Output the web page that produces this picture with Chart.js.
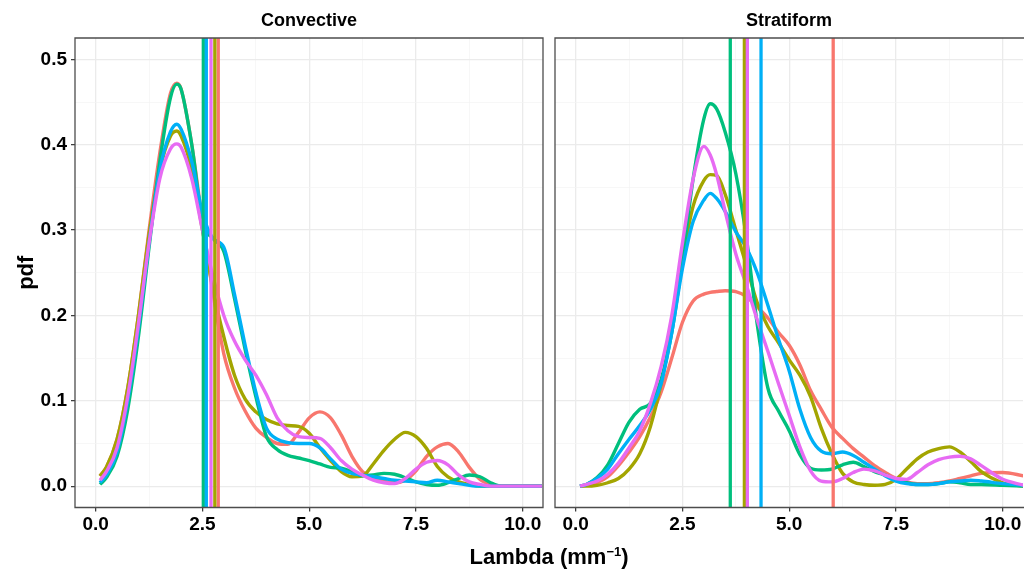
<!DOCTYPE html>
<html>
<head>
<meta charset="utf-8">
<script src="https://cdn.jsdelivr.net/npm/chart.js@4.4.0/dist/chart.umd.min.js"></script>
<style>
  html, body { margin: 0; padding: 0; background: #fff; overflow: hidden; }
  body { width: 1024px; height: 572px; position: relative; font-family: 'Liberation Sans', Arial, sans-serif; color: #000; }
  canvas { position: absolute; top: 0; }
  #convCanvas { left: 0; }
  #stratCanvas { left: 548px; }
  .strip { position: absolute; top: 9px; width: 300px; text-align: center; font-weight: bold; font-size: 18px; line-height: 22px; }
  #convTitle { left: 159px; }
  #stratTitle { left: 639px; }
  #xTitle { position: absolute; left: 349px; width: 400px; top: 539px; text-align: center; font-weight: bold; font-size: 22px; line-height: 26px; }
  #xTitle sup { font-size: 13px; }
</style>
</head>
<body>
<canvas id="convCanvas" width="548" height="572"></canvas>
<canvas id="stratCanvas" width="476" height="572"></canvas>
<div class="strip" id="convTitle">Convective</div>
<div class="strip" id="stratTitle">Stratiform</div>
<div id="xTitle">Lambda (mm<sup>&minus;1</sup>)</div>
<script>
// lambda grid for each facet
const convX = [0.1, 0.25, 0.5, 0.75, 1.0, 1.25, 1.5, 1.75, 1.9, 2.0, 2.25, 2.5, 2.75, 3.0, 3.25, 3.5, 3.75, 4.0, 4.25, 4.5, 4.75, 5.0, 5.25, 5.5, 5.75, 6.0, 6.25, 6.5, 6.75, 7.0, 7.25, 7.5, 7.75, 8.0, 8.25, 8.5, 8.75, 9.0, 9.25, 9.5, 10.0, 10.45];
const stratX = [0.1, 0.25, 0.5, 0.75, 1.0, 1.25, 1.5, 1.75, 2.0, 2.25, 2.5, 2.75, 3.0, 3.15, 3.3, 3.5, 3.75, 4.0, 4.25, 4.5, 4.75, 5.0, 5.25, 5.5, 5.75, 6.0, 6.25, 6.5, 6.75, 7.0, 7.25, 7.5, 7.75, 8.0, 8.25, 8.5, 8.75, 9.0, 9.25, 9.5, 10.0, 10.5];

// Convective densities
const convRed     = [.012, .022, .055, .115, .20, .30, .39, .46, .472, .465, .40, .31, .225, .155, .115, .088, .068, .057, .05, .049, .063, .08, .087, .08, .06, .035, .017, .01, .006, .004, .007, .018, .035, .046, .05, .04, .022, .008, .002, 0, 0, 0];
const convOlive   = [.012, .022, .055, .115, .20, .295, .37, .41, .416, .41, .37, .30, .23, .175, .13, .102, .087, .078, .073, .071, .07, .062, .045, .03, .017, .011, .012, .026, .042, .055, .063, .058, .044, .023, .011, .005, .002, 0, 0, 0, 0, 0];
const convGreen   = [.002, .01, .035, .09, .175, .28, .38, .455, .471, .465, .40, .31, .29, .275, .22, .16, .105, .058, .043, .036, .033, .03, .026, .022, .021, .017, .012, .013, .015, .014, .01, .005, .002, .001, .004, .009, .013, .011, .004, 0, 0, 0];
const convBlue    = [.004, .013, .04, .10, .185, .285, .37, .415, .424, .418, .38, .32, .29, .28, .225, .165, .11, .068, .055, .051, .05, .05, .045, .032, .02, .015, .013, .011, .009, .007, .006, .005, .004, .007, .005, .003, .001, 0, 0, 0, 0, 0];
const convMagenta = [.007, .017, .045, .105, .19, .285, .36, .395, .401, .397, .36, .30, .245, .20, .17, .148, .13, .107, .08, .065, .058, .057, .056, .045, .03, .02, .013, .007, .004, .003, .009, .02, .028, .03, .025, .013, .005, .002, 0, 0, 0, 0];

// Stratiform densities
const stratRed     = [0, .001, .004, .011, .024, .04, .058, .081, .11, .15, .192, .217, .225, .227, .228, .229, .228, .222, .21, .197, .18, .165, .142, .112, .09, .069, .056, .044, .034, .024, .016, .009, .005, .003, .003, .004, .006, .009, .012, .015, .016, .012];
const stratOlive   = [0, 0, .001, .004, .009, .02, .038, .07, .12, .185, .265, .328, .358, .365, .364, .342, .30, .258, .215, .187, .168, .148, .13, .105, .068, .038, .015, .005, .002, .001, .002, .008, .02, .032, .04, .044, .046, .04, .029, .017, .004, 0];
const stratGreen   = [0, .002, .01, .025, .05, .075, .09, .097, .125, .18, .265, .36, .43, .448, .442, .415, .366, .29, .19, .115, .088, .065, .037, .021, .019, .02, .025, .028, .023, .017, .013, .008, .004, .002, .002, .003, .005, .004, .002, .002, .001, 0];
const stratBlue    = [0, .002, .009, .02, .038, .055, .071, .09, .12, .18, .255, .31, .335, .343, .337, .322, .298, .279, .25, .212, .172, .135, .09, .057, .041, .038, .04, .036, .028, .02, .012, .006, .003, .002, .002, .003, .005, .006, .007, .006, .003, .001];
const stratMagenta = [0, .002, .006, .014, .027, .045, .065, .097, .14, .20, .285, .36, .398, .388, .365, .322, .272, .235, .195, .158, .12, .083, .046, .018, .006, .005, .009, .016, .02, .018, .013, .009, .008, .016, .025, .031, .034, .035, .032, .024, .008, .001];

// group means (red, olive, green, blue, magenta)
const convMeans  = [2.87, 2.79, 2.52, 2.59, 2.70];
const stratMeans = [6.03, 3.95, 3.62, 4.34, 4.02];

const xTickValues = [0, 1.25, 2.5, 3.75, 5, 6.25, 7.5, 8.75, 10];
const yTickValues = [0, 0.05, 0.1, 0.15, 0.2, 0.25, 0.3, 0.35, 0.4, 0.45, 0.5];
const xLimits = [-0.485, 10.475];
const yLimits = [-0.025, 0.525];

const groupColors = ['#F8766D', '#A3A500', '#00BF7D', '#00B0F6', '#E76BF3'];
const tickFont = { family: "'Liberation Sans', Arial, sans-serif", size: 19, weight: 'bold' };

const isMajor = (v, step) => Math.abs(v / step - Math.round(v / step)) < 1e-6;

const panelBorder = {
  id: 'panelBorder',
  afterDraw(chart, args, opts) {
    const { left, right, top, bottom } = chart.chartArea;
    const c = chart.ctx;
    c.save();
    c.strokeStyle = '#4d4d4d';
    c.lineWidth = 1.3;
    c.beginPath();
    if (opts.openRight) {
      c.moveTo(right + 2, top);
      c.lineTo(left, top);
      c.lineTo(left, bottom);
      c.lineTo(right + 2, bottom);
    } else {
      c.rect(left, top, right - left, bottom - top);
    }
    c.stroke();
    c.restore();
  }
};

function buildDatasets(xs, curves, means) {
  const sets = [];
  curves.forEach((ys, g) => {
    sets.push({
      data: xs.map((x, i) => ({ x: x, y: ys[i] })),
      borderColor: groupColors[g],
      borderWidth: 3.4,
      pointRadius: 0,
      cubicInterpolationMode: 'monotone',
      order: 9 - g
    });
  });
  means.forEach((m, g) => {
    sets.push({
      data: [{ x: m, y: yLimits[0] }, { x: m, y: yLimits[1] }],
      borderColor: groupColors[g],
      borderWidth: 3.3,
      pointRadius: 0,
      order: 4 - g
    });
  });
  return sets;
}

function makeChart(id, xs, curves, means, isLeft) {
  return new Chart(document.getElementById(id), {
    type: 'line',
    data: { datasets: buildDatasets(xs, curves, means) },
    plugins: [panelBorder],
    options: {
      responsive: false,
      animation: false,
      layout: { padding: { top: 38, bottom: 34.5, left: 0, right: isLeft ? 5 : 1 } },
      plugins: {
        legend: { display: false },
        tooltip: { enabled: false },
        panelBorder: { openRight: !isLeft }
      },
      scales: {
        x: {
          type: 'linear',
          min: xLimits[0],
          max: xLimits[1],
          afterBuildTicks: s => { s.ticks = xTickValues.map(v => ({ value: v })); },
          afterFit: s => { s.height = 30; },
          border: { display: false },
          grid: {
            color: c => isMajor(c.tick.value, 2.5) ? '#EBEBEB' : '#F4F4F4',
            lineWidth: c => isMajor(c.tick.value, 2.5) ? 1.3 : 0.7,
            tickColor: c => isMajor(c.tick.value, 2.5) ? '#333333' : 'rgba(0,0,0,0)',
            tickLength: 4,
            tickWidth: 1.2
          },
          ticks: {
            autoSkip: false,
            maxRotation: 0,
            padding: 2,
            color: '#000',
            font: tickFont,
            callback: v => isMajor(v, 2.5) ? v.toFixed(1) : ''
          }
        },
        y: {
          min: yLimits[0],
          max: yLimits[1],
          afterBuildTicks: s => { s.ticks = yTickValues.map(v => ({ value: v })); },
          afterFit: s => { s.width = isLeft ? 75 : 7; },
          border: { display: false },
          title: {
            display: isLeft,
            text: 'pdf',
            color: '#000',
            font: { family: "'Liberation Sans', Arial, sans-serif", size: 22, weight: 'bold' },
            padding: { top: 14, bottom: 0 }
          },
          grid: {
            color: c => isMajor(c.tick.value, 0.1) ? '#EBEBEB' : '#F4F4F4',
            lineWidth: c => isMajor(c.tick.value, 0.1) ? 1.3 : 0.7,
            tickColor: c => isMajor(c.tick.value, 0.1) ? '#333333' : 'rgba(0,0,0,0)',
            drawTicks: isLeft,
            tickLength: 4,
            tickWidth: 1.2
          },
          ticks: {
            display: isLeft,
            autoSkip: false,
            padding: 4,
            color: '#000',
            font: tickFont,
            callback: v => isMajor(v, 0.1) ? v.toFixed(1) : ''
          }
        }
      }
    }
  });
}

makeChart('convCanvas', convX, [convRed, convOlive, convGreen, convBlue, convMagenta], convMeans, true);
makeChart('stratCanvas', stratX, [stratRed, stratOlive, stratGreen, stratBlue, stratMagenta], stratMeans, false);
</script>
</body>
</html>
